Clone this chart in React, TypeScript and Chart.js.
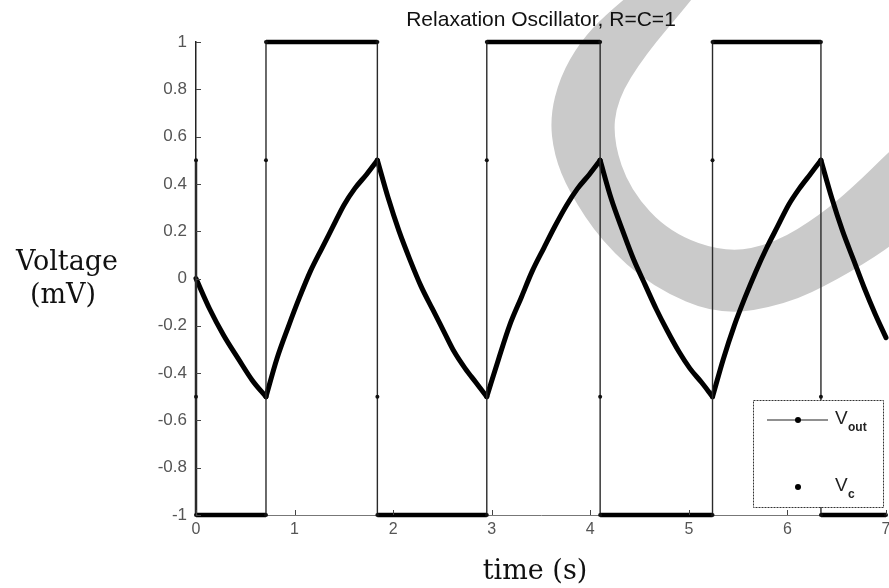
import React, { useEffect, useRef } from 'react';
import { Chart, registerables } from 'chart.js';

Chart.register(...registerables);

const titleText = 'Relaxation Oscillator, R=C=1';
const xAxisLabel = 'time (s)';
const yAxisLabelLines = ['Voltage', '(mV)'];
const legendLabels = [{ main: 'V', sub: 'out' }, { main: 'V', sub: 'c' }];

const xTickValues = [0, 1, 2, 3, 4, 5, 6, 7];
const yTickValues = [-1, -0.8, -0.6, -0.4, -0.2, 0, 0.2, 0.4, 0.6, 0.8, 1];

// Output voltage (square wave)
const voutTime = [0, 0, 0, 0.71, 0.71, 0.71, 1.84, 1.84, 1.84, 2.95, 2.95, 2.95, 4.1, 4.1, 4.1, 5.24, 5.24, 5.24, 6.34, 6.34, 6.34, 7.0];
const voutValue = [0.5, -0.5, -1, -1, 0.5, 1, 1, -0.5, -1, -1, 0.5, 1, 1, -0.5, -1, -1, 0.5, 1, 1, -0.5, -1, -1];

// Capacitor voltage
const vcTime = [
  0, 0.14, 0.28, 0.43, 0.57, 0.71,
  0.82, 0.94, 1.05, 1.16, 1.28, 1.39, 1.5, 1.61, 1.73, 1.84,
  1.95, 2.06, 2.17, 2.28, 2.4, 2.51, 2.62, 2.73, 2.84, 2.95,
  3.07, 3.18, 3.3, 3.41, 3.53, 3.64, 3.76, 3.87, 3.99, 4.1,
  4.21, 4.33, 4.44, 4.56, 4.67, 4.78, 4.9, 5.01, 5.13, 5.24,
  5.35, 5.46, 5.57, 5.68, 5.79, 5.9, 6.01, 6.12, 6.23, 6.34,
  6.45, 6.56, 6.67, 6.78, 6.89, 7.0,
];
const vcValue = [
  0, -0.13, -0.24, -0.34, -0.43, -0.5,
  -0.34, -0.2, -0.08, 0.03, 0.13, 0.22, 0.31, 0.38, 0.44, 0.5,
  0.34, 0.2, 0.08, -0.03, -0.13, -0.22, -0.31, -0.38, -0.44, -0.5,
  -0.34, -0.2, -0.08, 0.03, 0.13, 0.22, 0.31, 0.38, 0.44, 0.5,
  0.34, 0.2, 0.08, -0.03, -0.13, -0.22, -0.31, -0.38, -0.44, -0.5,
  -0.34, -0.2, -0.08, 0.03, 0.13, 0.22, 0.31, 0.38, 0.44, 0.5,
  0.34, 0.2, 0.08, -0.04, -0.15, -0.25,
];

// grey scan watermark outline (decoration, not data)
const watermarkOutline: [number, number][] = [
  [660, -30], [606, 14], [580, 42], [560, 77], [550, 117], [554, 155], [569, 192], [602, 242],
  [652, 287], [720, 316], [787, 304], [837, 280], [889, 248], [915, 225],
  [915, 128], [889, 152], [853, 187], [820, 215], [775, 243], [727, 253], [670, 233],
  [630, 190], [613, 140], [617, 100], [645, 55], [690, 2], [714, -30],
];

function fillSmooth(ctx: CanvasRenderingContext2D, pts: [number, number][]) {
  const n = pts.length;
  const mid = (a: [number, number], b: [number, number]) => [(a[0] + b[0]) / 2, (a[1] + b[1]) / 2];
  ctx.beginPath();
  const m0 = mid(pts[n - 1], pts[0]);
  ctx.moveTo(m0[0], m0[1]);
  for (let i = 0; i < n; i++) {
    const p = pts[i];
    const m = mid(p, pts[(i + 1) % n]);
    ctx.quadraticCurveTo(p[0], p[1], m[0], m[1]);
  }
  ctx.closePath();
  ctx.fill();
}

// split the capacitor curve at its turning points so each branch is smooth and the cusps stay sharp
function vcBranches() {
  const branches: { x: number; y: number }[][] = [];
  let start = 0;
  for (let i = 1; i < vcValue.length - 1; i++) {
    const d0 = vcValue[i] - vcValue[i - 1];
    const d1 = vcValue[i + 1] - vcValue[i];
    if (d0 * d1 < 0) {
      branches.push(vcTime.slice(start, i + 1).map((t, k) => ({ x: t, y: vcValue[start + k] })));
      start = i;
    }
  }
  branches.push(vcTime.slice(start).map((t, k) => ({ x: t, y: vcValue[start + k] })));
  return branches;
}

const decorPlugin = {
  id: 'decor',
  beforeDraw(chart: any) {
    const ctx = chart.ctx as CanvasRenderingContext2D;
    ctx.save();
    ctx.fillStyle = '#cacaca';
    fillSmooth(ctx, watermarkOutline);
    ctx.restore();
  },
  afterDraw(chart: any) {
    const ctx = chart.ctx as CanvasRenderingContext2D;
    const ca = chart.chartArea;
    const sx = chart.scales.x;
    const sy = chart.scales.y;
    ctx.save();
    // inward tick marks
    ctx.strokeStyle = '#444';
    ctx.lineWidth = 1;
    yTickValues.forEach((v) => {
      const y = Math.round(sy.getPixelForValue(v)) + 0.5;
      ctx.beginPath();
      ctx.moveTo(ca.left, y);
      ctx.lineTo(ca.left + 5, y);
      ctx.stroke();
    });
    xTickValues.forEach((v) => {
      const x = Math.round(sx.getPixelForValue(v)) + 0.5;
      ctx.beginPath();
      ctx.moveTo(x, ca.bottom);
      ctx.lineTo(x, ca.bottom - 5);
      ctx.stroke();
    });

    // title
    ctx.fillStyle = '#111';
    ctx.textAlign = 'center';
    ctx.textBaseline = 'middle';
    ctx.font = '21px "Liberation Sans", Arial, sans-serif';
    ctx.fillText(titleText, (ca.left + ca.right) / 2, 20);

    // axis labels
    ctx.font = '27px "DejaVu Serif", serif';
    ctx.fillText(yAxisLabelLines[0], 67, 263);
    ctx.fillText(yAxisLabelLines[1], 63, 296);
    ctx.fillText(xAxisLabel, (ca.left + ca.right) / 2 - 6, 572);

    // legend
    const bx = ca.right - 133;
    const by = ca.bottom - 115;
    const bw = 130;
    const bh = 107;
    ctx.fillStyle = '#fff';
    ctx.fillRect(bx, by, bw, bh);
    ctx.strokeStyle = '#333';
    ctx.lineWidth = 1;
    ctx.setLineDash([2, 1]);
    ctx.strokeRect(bx + 0.5, by + 0.5, bw, bh);
    ctx.setLineDash([]);
    const y1 = by + 20;
    const y2 = by + 87;
    ctx.strokeStyle = '#222';
    ctx.lineWidth = 1.2;
    ctx.beginPath();
    ctx.moveTo(bx + 14, y1);
    ctx.lineTo(bx + 75, y1);
    ctx.stroke();
    ctx.fillStyle = '#000';
    ctx.beginPath();
    ctx.arc(bx + 45, y1, 3, 0, Math.PI * 2);
    ctx.fill();
    ctx.beginPath();
    ctx.arc(bx + 45, y2, 3, 0, Math.PI * 2);
    ctx.fill();
    ctx.textAlign = 'left';
    ctx.fillStyle = '#222';
    [y1, y2].forEach((yy, i) => {
      ctx.font = '19px "Liberation Sans", Arial, sans-serif';
      ctx.fillText(legendLabels[i].main, bx + 82, yy - 1);
      ctx.font = 'bold 12px "Liberation Sans", Arial, sans-serif';
      ctx.fillText(legendLabels[i].sub, bx + 95, yy + 8);
    });
    ctx.restore();
  },
};

export default function App() {
  const canvasRef = useRef<HTMLCanvasElement | null>(null);

  useEffect(() => {
    const canvas = canvasRef.current;
    if (!canvas) return;
    const isVertical = (c: any) => c.p0.parsed.x === c.p1.parsed.x;
    const vcSets = vcBranches().map((pts, i) => ({
      label: i === 0 ? 'Vc' : 'Vc_' + i,
      data: pts,
      borderColor: '#000',
      borderWidth: 5,
      borderCapStyle: 'round',
      pointRadius: 0,
      cubicInterpolationMode: 'monotone',
      clip: false,
    }));
    const chart = new Chart(canvas, {
      type: 'line',
      data: {
        datasets: [
          {
            label: 'Vout',
            data: voutTime.map((t, i) => ({ x: t, y: voutValue[i] })),
            borderColor: '#000',
            borderWidth: 4.5,
            pointRadius: 2,
            pointBackgroundColor: '#111',
            pointBorderWidth: 0,
            tension: 0,
            clip: false,
            segment: {
              borderWidth: (c: any) => (isVertical(c) ? (c.p0.parsed.x === 0 ? 2.5 : 1.4) : 4.5),
              borderColor: (c: any) => (isVertical(c) ? '#2a2a2a' : '#000'),
            },
          } as any,
          ...(vcSets as any[]),
        ],
      },
      options: {
        responsive: false,
        animation: false,
        events: [],
        layout: { padding: { left: 0, right: 14, top: 42, bottom: 0 } },
        plugins: {
          legend: { display: false },
          tooltip: { enabled: false },
          title: { display: false },
        },
        scales: {
          x: {
            type: 'linear',
            min: 0,
            max: 7,
            afterBuildTicks: (s: any) => {
              s.ticks = xTickValues.map((v) => ({ value: v }));
            },
            afterFit: (s: any) => {
              s.height = 73;
            },
            grid: { display: false, drawTicks: false },
            border: { display: true, color: '#777', width: 1 },
            ticks: {
              padding: 5,
              autoSkip: false,
              maxRotation: 0,
              color: '#555',
              font: { size: 16, family: '"Liberation Sans", Arial, sans-serif' },
              callback: (v: any) => String(v),
            },
          },
          y: {
            type: 'linear',
            min: -1,
            max: 1,
            afterBuildTicks: (s: any) => {
              s.ticks = yTickValues.map((v) => ({ value: v }));
            },
            afterFit: (s: any) => {
              s.width = 196;
            },
            grid: { display: false, drawTicks: false },
            border: { display: true, color: '#222', width: 1.5 },
            ticks: {
              padding: 9,
              color: '#555',
              font: { size: 17, family: '"Liberation Sans", Arial, sans-serif' },
              callback: (v: any) => String(Number(Number(v).toFixed(1))),
            },
          },
        },
      } as any,
      plugins: [decorPlugin],
    });
    return () => chart.destroy();
  }, []);

  return (
    <div style={{ position: 'fixed', left: 0, top: 0, width: 889, height: 588, overflow: 'hidden', background: '#fff' }}>
      <canvas ref={canvasRef} width={900} height={588} style={{ width: 900, height: 588, display: 'block' }} />
    </div>
  );
}
